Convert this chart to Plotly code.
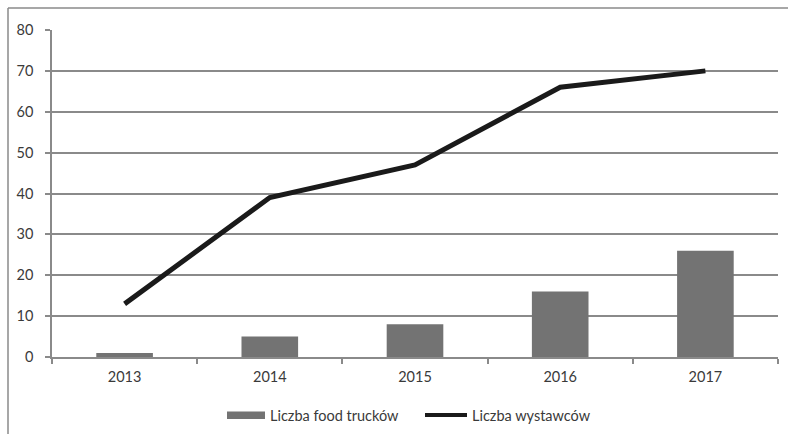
import plotly.graph_objects as go

years = ["2013", "2014", "2015", "2016", "2017"]
food_trucks = [1, 5, 8, 16, 26]
exhibitors = [13, 39, 47, 66, 70]
y_ticks = [0, 10, 20, 30, 40, 50, 60, 70, 80]
series_names = ["Liczba food trucków", "Liczba wystawców"]

W, H = 788, 434
ml, mr, mt, mb = 52, 10, 30, 77
pw, ph = W - ml - mr, H - mt - mb

def px(x):
    return (x - ml) / pw

def py(y):
    return (H - mb - y) / ph

font = dict(family="Lato, Open Sans, sans-serif", size=14.5, color="#3a3a3a")
bar_color = "#737373"
line_color = "#1a1a1a"
frame_color = "#8a8a8a"

fig = go.Figure()
fig.add_trace(go.Bar(x=years, y=food_trucks, name=series_names[0],
                     marker=dict(color=bar_color, line=dict(width=0)), width=0.39,
                     showlegend=False))
fig.add_trace(go.Scatter(x=years, y=exhibitors, name=series_names[1], mode="lines",
                         line=dict(color=line_color, width=5), showlegend=False))

# outer frame (top and left edges visible)
fig.add_shape(type="line", xref="paper", yref="paper", x0=px(8), x1=px(W + 5),
              y0=py(8), y1=py(8), line=dict(color=frame_color, width=1.5))
fig.add_shape(type="line", xref="paper", yref="paper", x0=px(8), x1=px(8),
              y0=py(8), y1=py(H + 5), line=dict(color=frame_color, width=1.5))

# legend drawn below the plot
ly = 415
fig.add_shape(type="rect", xref="paper", yref="paper", x0=px(227), x1=px(265),
              y0=py(411.5), y1=py(419), fillcolor=bar_color, line=dict(width=0))
fig.add_annotation(xref="paper", yref="paper", x=px(268), y=py(ly), text=series_names[0],
                   showarrow=False, xanchor="left", yanchor="middle",
                   font=dict(family=font["family"], size=14.5, color="#3a3a3a"))
fig.add_shape(type="line", xref="paper", yref="paper", x0=px(425), x1=px(467),
              y0=py(ly), y1=py(ly), line=dict(color=line_color, width=4))
fig.add_annotation(xref="paper", yref="paper", x=px(470), y=py(ly), text=series_names[1],
                   showarrow=False, xanchor="left", yanchor="middle",
                   font=dict(family=font["family"], size=14.5, color="#3a3a3a"))

fig.update_layout(
    width=W, height=H,
    margin=dict(l=ml, r=mr, t=mt, b=mb, autoexpand=False),
    paper_bgcolor="white", plot_bgcolor="white",
    font=font,
    showlegend=False,
    xaxis=dict(showgrid=False, showline=True, linecolor=frame_color, linewidth=1.5,
               ticks="outside", ticklen=5, tickcolor=frame_color, tickwidth=1.5,
               tickson="boundaries", tickfont=font, ticklabelstandoff=6),
    yaxis=dict(range=[0, 80], tickvals=y_ticks, showgrid=True, gridcolor=frame_color,
               gridwidth=1.5, showline=True, linecolor=frame_color, linewidth=1.5,
               ticks="outside", ticklen=5, tickcolor=frame_color, tickwidth=1.5,
               zeroline=False, tickfont=font, ticklabelstandoff=9),
)
fig.write_html("out.html")
